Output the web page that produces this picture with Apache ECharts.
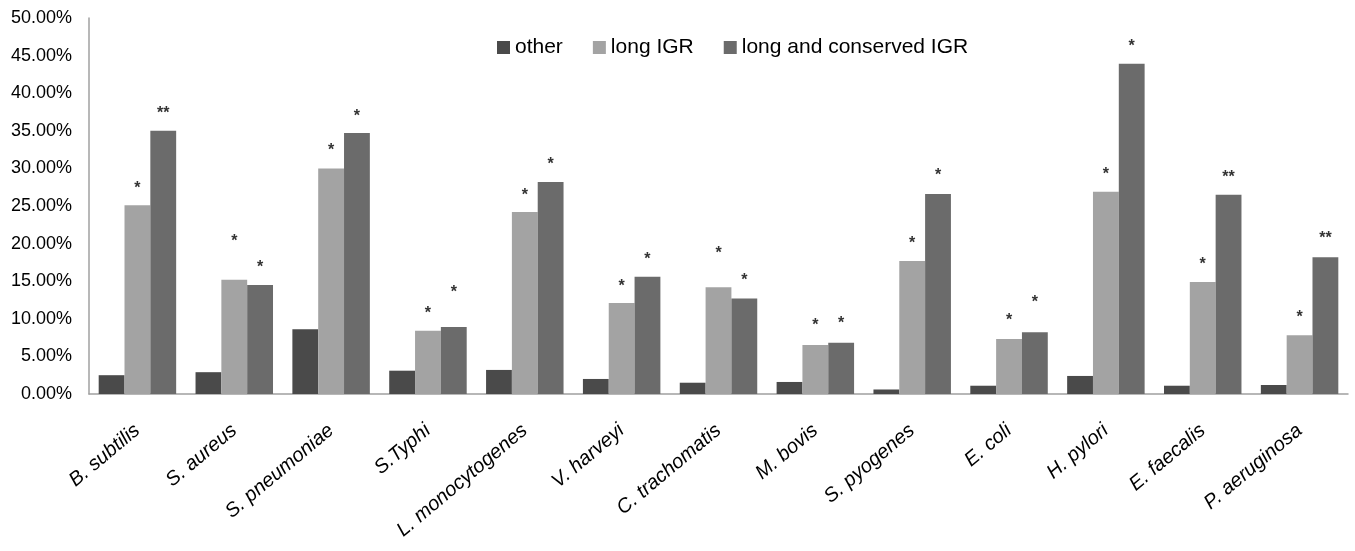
<!DOCTYPE html>
<html>
<head>
<meta charset="utf-8">
<script src="https://cdn.jsdelivr.net/npm/echarts@6/dist/echarts.min.js"></script>
<style>html,body{margin:0;padding:0;background:#fff;}#c{width:1355px;height:551px;}</style>
</head>
<body>
<div id="c"></div>
<script>
var categories = ['B. subtilis','S. aureus','S. pneumoniae','S.Typhi','L. monocytogenes','V. harveyi','C. trachomatis','M. bovis','S. pyogenes','E. coli','H. pylori','E. faecalis','P. aeruginosa'];
var other     = [2.5, 2.9, 8.6, 3.1, 3.2, 2.0, 1.5, 1.6, 0.6, 1.1, 2.4, 1.1, 1.2];
var longIGR   = [25.1, 15.2, 30.0, 8.4, 24.2, 12.1, 14.2, 6.5, 17.7, 7.3, 26.9, 14.9, 7.8];
var consIGR   = [35.0, 14.5, 34.7, 8.9, 28.2, 15.6, 12.7, 6.8, 26.6, 8.2, 43.9, 26.5, 18.2];
// significance marks and the heights at which they are drawn
var markLong  = ['*','*','*','*','*','*','*','*','*','*','*','*','*'];
var starLong  = [28.0, 20.9, 33.0, 11.4, 27.1, 15.0, 19.3, 9.8, 20.7, 10.4, 29.9, 17.9, 10.8];
var markCons  = ['**','*','*','*','*','*','*','*','*','*','*','**','**'];
var starCons  = [38.0, 17.5, 37.6, 14.2, 31.2, 18.5, 15.7, 10.0, 29.7, 12.8, 46.8, 29.5, 21.3];
var yTicks = {min: 0, max: 50, interval: 5};

var FONT = 'Liberation Sans';
var chart = echarts.init(document.getElementById('c'));

function gapSeries(stack, vals, stars, marks) {
  return {
    type: 'bar', stack: stack, silent: true,
    data: stars.map(function (s, i) { return +(s - vals[i]).toFixed(3); }),
    itemStyle: {color: 'rgba(0,0,0,0)'},
    label: {
      show: true, position: ['50%', 0], align: 'center', verticalAlign: 'middle',
      offset: [0, 5],
      formatter: function (p) { return marks[p.dataIndex]; },
      fontSize: 16, fontWeight: 'bold', color: '#333', fontFamily: FONT
    }
  };
}

chart.setOption({
  animation: false,
  backgroundColor: '#fff',
  grid: {left: 89, right: 7, top: 18, bottom: 157},
  legend: {
    data: ['other', 'long IGR', 'long and conserved IGR'],
    left: 492, top: 32, itemWidth: 13, itemHeight: 13, itemGap: 30,
    icon: 'rect',
    textStyle: {fontSize: 21, color: '#000', fontFamily: FONT}
  },
  xAxis: {
    type: 'category', data: categories,
    axisLine: {lineStyle: {color: '#a0a0a0', width: 1.5}},
    axisTick: {show: false},
    axisLabel: {rotate: 40, interval: 0, fontSize: 20, fontStyle: 'italic', color: '#000', fontFamily: FONT, margin: 34}
  },
  yAxis: {
    type: 'value', min: yTicks.min, max: yTicks.max, interval: yTicks.interval,
    axisLine: {show: true, lineStyle: {color: '#a0a0a0', width: 1.5}},
    axisTick: {show: false},
    splitLine: {show: false},
    axisLabel: {fontSize: 18, color: '#000', fontFamily: FONT, margin: 17,
      formatter: function (v) { return v.toFixed(2) + '%'; }}
  },
  series: [
    {name: 'other', type: 'bar', data: other, barGap: '0%', barCategoryGap: '20%',
     itemStyle: {color: '#4a4a4a'}},
    {name: 'long IGR', type: 'bar', stack: 'L', data: longIGR, itemStyle: {color: '#a3a3a3'}},
    gapSeries('L', longIGR, starLong, markLong),
    {name: 'long and conserved IGR', type: 'bar', stack: 'C', data: consIGR, itemStyle: {color: '#6b6b6b'}},
    gapSeries('C', consIGR, starCons, markCons)
  ]
});
</script>
</body>
</html>
